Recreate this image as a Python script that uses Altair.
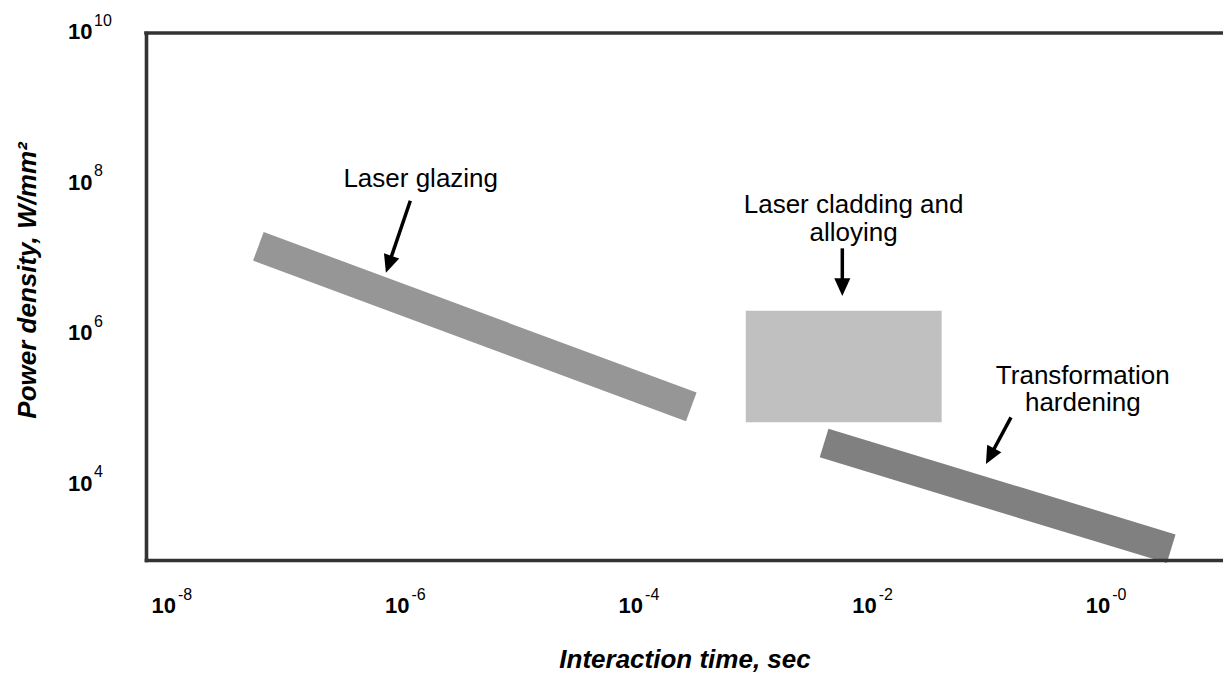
import math

import altair as alt
import pandas as pd

# Process regions on the interaction-time / power-density map.
# Bands are given by the two end points of their centre line (time s, power W/mm^2).
glazing_time = [5.5e-8, 2.8e-4]
glazing_power = [1.47e7, 1.08e5]

hardening_time = [3.84e-3, 3.6]
hardening_power = [3.58e4, 1.41e3]

# Cladding / alloying window: time range and power range
cladding_time = [8.2e-4, 3.9e-2]
cladding_power = [6.75e4, 2.05e6]

# Callout arrows: tail and tip of each arrow
arrow_tail_time = [1.1e-6, 5.5e-3, 0.153]
arrow_tail_power = [5.92e7, 1.38e7, 7.85e4]
arrow_tip_time = [6.8e-7, 5.5e-3, 0.0933]
arrow_tip_power = [6.55e6, 3.21e6, 1.88e4]

# Region labels, one entry per text line (centre time, baseline power)
note_lines = ["Laser glazing", "Laser cladding and", "alloying", "Transformation", "hardening"]
note_time = [1.35e-6, 6.87e-3, 6.87e-3, 0.63, 0.63]
note_power = [8.9e7, 4.06e7, 1.73e7, 2.20e5, 9.5e4]

# Decade tick labels
x_tick_exp = [-8, -6, -4, -2, 0]
x_tick_sup = ["-8", "-6", "-4", "-2", "-0"]
y_tick_exp = [10, 8, 6, 4]
y_tick_sup = ["10", "8", "6", "4"]

# ---------------------------------------------------------------- layout
XMIN, XMAX = 6e-9, 10.0
YMIN, YMAX = 1e3, 1e10
W, H = 1077, 527
FONT = "Liberation Sans"
FRAME = "#333333"
FRAME_W = 3.6

xs = alt.Scale(type="log", domain=[XMIN, XMAX], nice=False)
ys = alt.Scale(type="log", domain=[YMIN, YMAX], nice=False)

x_axis = alt.Axis(
    title="Interaction time, sec", labels=False, ticks=False, grid=False,
    domain=True, domainColor=FRAME, domainWidth=FRAME_W, domainCap="square",
    titleFont=FONT, titleFontSize=26, titleFontWeight="bold", titleFontStyle="italic",
    titleColor="black", titleX=W / 2, titleY=107, titleAlign="center",
    titleBaseline="alphabetic", zindex=1,
)
y_axis = alt.Axis(
    title="Power density, W/mm²", labels=False, ticks=False, grid=False,
    domain=True, domainColor=FRAME, domainWidth=FRAME_W, domainCap="square",
    titleFont=FONT, titleFontSize=26, titleFontWeight="bold", titleFontStyle="italic",
    titleColor="black", titleAngle=270, titleX=-111, titleY=247, titleAlign="center",
    titleBaseline="alphabetic", zindex=1,
)


def X(field):
    return alt.X(f"{field}:Q", scale=xs, axis=x_axis)


def Y(field):
    return alt.Y(f"{field}:Q", scale=ys, axis=y_axis)


# pixels per decade, used to orient the arrow heads along their shafts
ppx = W / (math.log10(XMAX) - math.log10(XMIN))
ppy = H / (math.log10(YMAX) - math.log10(YMIN))
HEAD_BACK = 10.0  # shaft stops this far behind the tip

rows = []
for t0, p0, t1, p1 in zip(arrow_tail_time, arrow_tail_power, arrow_tip_time, arrow_tip_power):
    lt0, lp0, lt1, lp1 = map(math.log10, (t0, p0, t1, p1))
    dxp = (lt1 - lt0) * ppx
    dyp = -(lp1 - lp0) * ppy
    length = math.hypot(dxp, dyp)
    f = HEAD_BACK / length
    rows.append({
        "tail_t": t0, "tail_p": p0, "tip_t": t1, "tip_p": p1,
        "end_t": 10 ** (lt1 + (lt0 - lt1) * f),
        "end_p": 10 ** (lp1 + (lp0 - lp1) * f),
        "angle": math.degrees(math.atan2(dxp, -dyp)) % 360,
    })
arrows = pd.DataFrame(rows)


def band(times, powers):
    return pd.DataFrame({"t0": [times[0]], "t1": [times[1]], "p0": [powers[0]], "p1": [powers[1]]})


cladding = alt.Chart(band(cladding_time, cladding_power)).mark_rect(color="#c0c0c0").encode(
    x=X("t0"), x2="t1", y=Y("p0"), y2="p1"
)
glazing = alt.Chart(band(glazing_time, glazing_power)).mark_rule(
    color="#969696", strokeWidth=30.5, strokeCap="butt"
).encode(x=X("t0"), x2="t1", y=Y("p0"), y2="p1")
hardening = alt.Chart(band(hardening_time, hardening_power)).mark_rule(
    color="#808080", strokeWidth=30, strokeCap="butt"
).encode(x=X("t0"), x2="t1", y=Y("p0"), y2="p1")

shafts = alt.Chart(arrows).mark_rule(color="black", strokeWidth=3.5, strokeCap="butt").encode(
    x=X("tail_t"), x2="end_t", y=Y("tail_p"), y2="end_p"
)
heads = alt.Chart(arrows).mark_point(
    shape="M0,0L-0.75,1.65L0.75,1.65Z", filled=True, size=460, color="black",
    opacity=1, strokeWidth=0,
).encode(x=X("tip_t"), y=Y("tip_p"), angle=alt.Angle("angle:Q", scale=None))

notes = alt.Chart(pd.DataFrame({"line": note_lines, "t": note_time, "p": note_power})).mark_text(
    font=FONT, fontSize=26, color="black", align="center", baseline="alphabetic"
).encode(x=X("t"), y=Y("p"), text="line:N")

xt = pd.DataFrame({"t": [10.0 ** e for e in x_tick_exp], "sup": x_tick_sup})
x_base = alt.Chart(xt).mark_text(
    font=FONT, fontSize=22, fontWeight="bold", color="black", align="right",
    baseline="alphabetic", dx=4,
).encode(x=X("t"), y=alt.value(H + 53), text=alt.value("10"))
x_sup = alt.Chart(xt).mark_text(
    font=FONT, fontSize=16, color="black", align="left", baseline="alphabetic", dx=6,
).encode(x=X("t"), y=alt.value(H + 40), text="sup:N")

yt = pd.DataFrame({"p": [10.0 ** e for e in y_tick_exp], "sup": y_tick_sup})
y_base = alt.Chart(yt).mark_text(
    font=FONT, fontSize=22, fontWeight="bold", color="black", align="right",
    baseline="alphabetic", dy=6,
).encode(x=alt.value(-53.5), y=Y("p"), text=alt.value("10"))
y_sup = alt.Chart(yt).mark_text(
    font=FONT, fontSize=16, color="black", align="left", baseline="alphabetic", dy=-7.5,
).encode(x=alt.value(-52), y=Y("p"), text="sup:N")

top_edge = alt.Chart(pd.DataFrame({"p": [YMAX]})).mark_rule(
    color=FRAME, strokeWidth=FRAME_W, strokeCap="square"
).encode(y=Y("p"))

chart = alt.layer(
    cladding, glazing, hardening, shafts, heads, notes,
    x_base, x_sup, y_base, y_sup, top_edge,
).properties(
    width=W,
    height=H,
    autosize=alt.AutoSizeParams(type="none"),
    padding={"left": 146, "top": 33, "right": 0, "bottom": 115},
    background="white",
).configure_view(stroke=None)

chart.save("out.html", embed_options={"renderer": "svg", "actions": False})
